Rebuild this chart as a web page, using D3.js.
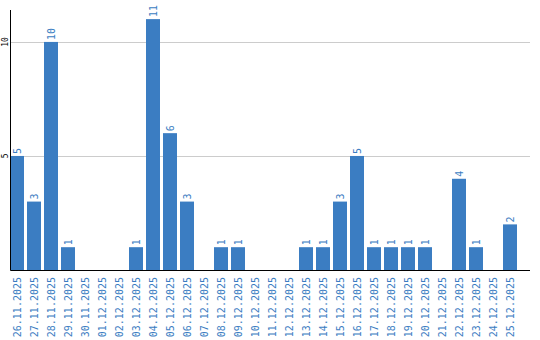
<!DOCTYPE html>
<html>
<head>
<meta charset="utf-8">
<script src="https://cdn.jsdelivr.net/npm/d3@7"></script>
<style>
  body { margin: 0; background: #fff; }
  text { font-family: "DejaVu Sans Mono", monospace; }
</style>
</head>
<body>
<div class="container"></div>
<script>
var dates = ['26.11.2025', '27.11.2025', '28.11.2025', '29.11.2025', '30.11.2025',
  '01.12.2025', '02.12.2025', '03.12.2025', '04.12.2025', '05.12.2025',
  '06.12.2025', '07.12.2025', '08.12.2025', '09.12.2025', '10.12.2025',
  '11.12.2025', '12.12.2025', '13.12.2025', '14.12.2025', '15.12.2025',
  '16.12.2025', '17.12.2025', '18.12.2025', '19.12.2025', '20.12.2025',
  '21.12.2025', '22.12.2025', '23.12.2025', '24.12.2025', '25.12.2025'];
var counts = [5, 3, 10, 1, 0, 0, 0, 1, 11, 6, 3, 0, 1, 1, 0, 0, 0, 1, 1, 3, 5, 1, 1, 1, 1, 0, 4, 1, 0, 2];
var yTicks = [5, 10];

var width = 540, height = 340;
var plotLeft = 10, plotRight = 530, plotBottom = 270, plotTop = 10;
var barColor = '#3b7dc2';

var svg = d3.select('.container')
  .append('svg')
    .attr('width', width)
    .attr('height', height);

// 30 bands of 17px, bars 14px wide, last bar ends at 517
var x = d3.scaleBand()
  .domain(dates)
  .range([plotLeft, plotLeft + (dates.length - 1) * 17 + 14])
  .paddingInner(3 / 17)
  .paddingOuter(0);

var y = d3.scaleLinear()
  .domain([0, 11.4])
  .range([plotBottom, plotTop]);

// grid
svg.append('g')
  .selectAll('line')
  .data(yTicks)
  .enter().append('line')
    .attr('x1', plotLeft)
    .attr('x2', plotRight)
    .attr('y1', function(d) { return Math.round(y(d)) + 0.5; })
    .attr('y2', function(d) { return Math.round(y(d)) + 0.5; })
    .attr('stroke', '#cccccc');

// bars
svg.append('g')
  .selectAll('rect')
  .data(dates)
  .enter().append('rect')
    .attr('x', function(d) { return Math.round(x(d)); })
    .attr('width', Math.round(x.bandwidth()))
    .attr('y', function(d, i) { return y(counts[i]); })
    .attr('height', function(d, i) { return plotBottom - y(counts[i]); })
    .attr('fill', barColor);

// value labels
svg.append('g')
  .selectAll('text')
  .data(dates.filter(function(d, i) { return counts[i] > 0; }))
  .enter().append('text')
    .attr('transform', function(d) {
      var i = dates.indexOf(d);
      return 'translate(' + (Math.round(x(d)) + 7) + ',' + (y(counts[i]) - 2) + ') rotate(-90)';
    })
    .attr('dy', '0.35em')
    .attr('font-size', 10)
    .attr('fill', barColor)
    .text(function(d) { return counts[dates.indexOf(d)]; });

// x labels
svg.append('g')
  .selectAll('text')
  .data(dates)
  .enter().append('text')
    .attr('transform', function(d) {
      return 'translate(' + (Math.round(x(d)) + 7) + ',' + (plotBottom + 7) + ') rotate(-90)';
    })
    .attr('dy', '0.35em')
    .style('text-anchor', 'end')
    .attr('font-size', 10)
    .attr('fill', barColor)
    .text(function(d) { return d; });

// y labels
svg.append('g')
  .selectAll('text')
  .data(yTicks)
  .enter().append('text')
    .attr('transform', function(d) {
      return 'translate(5,' + y(d) + ') rotate(-90)';
    })
    .attr('dy', '0.35em')
    .style('text-anchor', 'middle')
    .attr('font-size', 8)
    .attr('fill', '#000')
    .text(function(d) { return d; });

// axes lines
svg.append('path')
  .attr('d', 'M' + (plotLeft + 0.5) + ',' + plotTop + 'V' + (plotBottom + 0.5) + 'H' + plotRight)
  .attr('fill', 'none')
  .attr('stroke', '#000');
</script>
</body>
</html>
